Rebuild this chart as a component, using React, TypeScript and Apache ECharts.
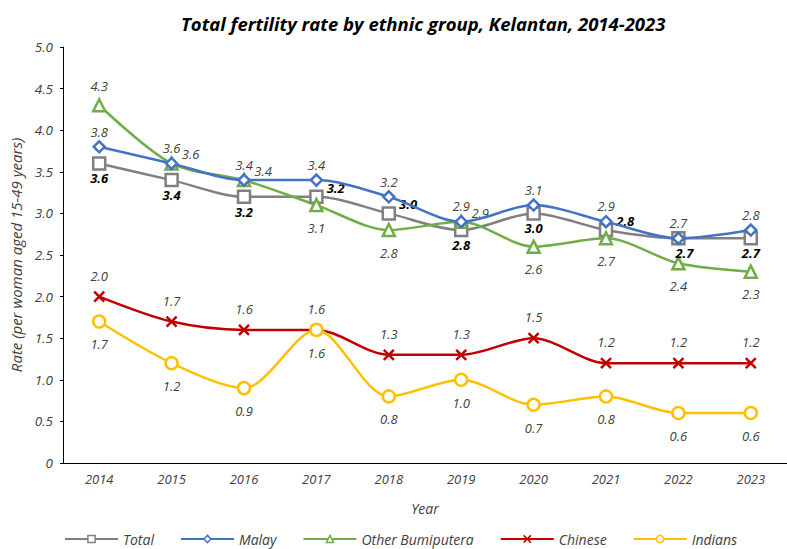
import React, { useEffect, useRef } from "react";
import * as echarts from "echarts";

const years = ["2014", "2015", "2016", "2017", "2018", "2019", "2020", "2021", "2022", "2023"];
const total = [3.6, 3.4, 3.2, 3.2, 3.0, 2.8, 3.0, 2.8, 2.7, 2.7];
const malay = [3.8, 3.6, 3.4, 3.4, 3.2, 2.9, 3.1, 2.9, 2.7, 2.8];
const otherBumi = [4.3, 3.6, 3.4, 3.1, 2.8, 2.9, 2.6, 2.7, 2.4, 2.3];
const chinese = [2.0, 1.7, 1.6, 1.6, 1.3, 1.3, 1.5, 1.2, 1.2, 1.2];
const indians = [1.7, 1.2, 0.9, 1.6, 0.8, 1.0, 0.7, 0.8, 0.6, 0.6];

// label placements per point
const totalPos = ["bottom", "bottom", "bottom", "rt", "rt", "bottom", "bottom", "rt", "br", "bottom"];
const bumiPos = ["top", "rt", "rt", "bottom", "bottom", "rt", "bottom", "bottom", "bottom", "bottom"];

const FONT = "Open Sans";

function posCfg(p: string, dist: number) {
  if (p === "rt") return { position: "right", distance: 3, offset: [0, -9] };
  if (p === "br") return { position: "bottom", distance: dist, offset: [6, 0] };
  return { position: p, distance: dist };
}

export default function App() {
  const ref = useRef<HTMLDivElement>(null);
  useEffect(() => {
    const chart = echarts.init(ref.current!, null, { renderer: "svg" });
    const labelBase = {
      show: true,
      fontFamily: FONT,
      fontStyle: "italic",
      fontSize: 13,
      color: "#404040",
      formatter: (p: any) => Number(p.value).toFixed(1),
    };
    const xPath = "path://M0,0L10,10M10,0L0,10";
    const option: any = {
      animation: false,
      backgroundColor: "#fff",
      title: {
        text: "Total fertility rate by ethnic group, Kelantan, 2014-2023",
        left: 176,
        top: 9,
        textStyle: { fontFamily: FONT, fontStyle: "italic", fontWeight: "bold", fontSize: 18.5, color: "#000" },
      },
      grid: { left: 62, top: 47, width: 730, height: 416 },
      legend: {
        bottom: -2,
        left: 59,
        itemGap: 26,
        itemWidth: 53,
        itemHeight: 9,
        itemStyle: { borderWidth: 1.5 },
        textStyle: { fontFamily: FONT, fontStyle: "italic", fontSize: 14, color: "#404040" },
        data: ["Total", "Malay", "Other Bumiputera", "Chinese", "Indians"],
      },
      xAxis: {
        type: "category",
        data: years,
        boundaryGap: true,
        name: "Year",
        nameLocation: "middle",
        nameGap: 38,
        nameTextStyle: { fontFamily: FONT, fontStyle: "italic", fontSize: 14, color: "#404040" },
        axisLine: { lineStyle: { color: "#000", width: 1 } },
        axisTick: { show: false },
        axisLabel: { fontFamily: FONT, fontStyle: "italic", fontSize: 13, color: "#404040", margin: 9 },
      },
      yAxis: {
        type: "value",
        min: 0,
        max: 5,
        interval: 0.5,
        name: "Rate (per woman aged 15-49 years)",
        nameLocation: "middle",
        nameGap: 40,
        nameTextStyle: { fontFamily: FONT, fontStyle: "italic", fontSize: 15, color: "#404040" },
        splitLine: { show: false },
        axisLine: { show: true, lineStyle: { color: "#000", width: 1 } },
        axisTick: { show: true, length: 3, lineStyle: { color: "#000" } },
        axisLabel: {
          fontFamily: FONT,
          fontStyle: "italic",
          fontSize: 13.5,
          color: "#404040",
          margin: 10,
          formatter: (v: number) => (v === 0 ? "0" : v.toFixed(1)),
        },
      },
      series: [
        {
          name: "Total",
          type: "line",
          smooth: 0.3,
          z: 2,
          symbol: "rect",
          symbolSize: 12,
          lineStyle: { color: "#808080", width: 2.5 },
          itemStyle: { color: "#fff", borderColor: "#808080", borderWidth: 2.5 },
          data: total.map((v, i) => ({
            value: v,
            label: {
              ...labelBase,
              color: "#000",
              fontWeight: "bold",
              ...posCfg(totalPos[i], 1),
            },
          })),
        },
        {
          name: "Malay",
          type: "line",
          smooth: 0.3,
          z: 3,
          symbol: "diamond",
          symbolSize: 11,
          lineStyle: { color: "#4472C4", width: 2.5 },
          itemStyle: { color: "#fff", borderColor: "#4472C4", borderWidth: 2.5 },
          label: { ...labelBase, position: "top", distance: 2 },
          data: malay,
        },
        {
          name: "Other Bumiputera",
          type: "line",
          smooth: 0.3,
          z: 2,
          symbol: "triangle",
          symbolSize: 12,
          lineStyle: { color: "#70AD47", width: 2.5 },
          itemStyle: { color: "#fff", borderColor: "#70AD47", borderWidth: 2.5 },
          data: otherBumi.map((v, i) => ({
            value: v,
            label: { ...labelBase, ...posCfg(bumiPos[i], bumiPos[i] === "top" ? 5 : 9) },
          })),
        },
        {
          name: "Chinese",
          type: "line",
          smooth: 0.3,
          z: 2,
          symbol: xPath,
          symbolSize: 10,
          lineStyle: { color: "#C00000", width: 2.5 },
          itemStyle: { color: "none", borderColor: "#C00000", borderWidth: 2.5 },
          label: { ...labelBase, position: "top", distance: 7 },
          data: chinese,
        },
        {
          name: "Indians",
          type: "line",
          smooth: 0.3,
          z: 2,
          symbol: "circle",
          symbolSize: 12,
          lineStyle: { color: "#FFC000", width: 2.5 },
          itemStyle: { color: "#fff", borderColor: "#FFC000", borderWidth: 2.5 },
          label: { ...labelBase, position: "bottom", distance: 9 },
          data: indians,
        },
      ],
    };
    chart.setOption(option);
    return () => chart.dispose();
  }, []);
  return <div ref={ref} style={{ width: 787, height: 549, position: "absolute", left: 0, top: 0 }} />;
}
